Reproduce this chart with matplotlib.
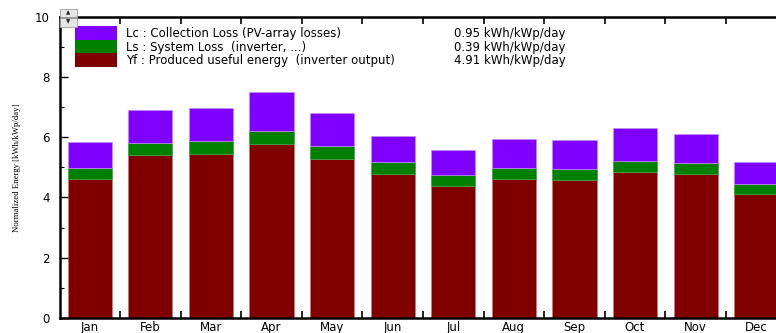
import matplotlib
matplotlib.use("Agg")
import matplotlib.pyplot as plt
from matplotlib.patches import Rectangle
import numpy as np

plt.rcParams['font.family'] = ['DejaVu Sans']

months = ['Jan', 'Feb', 'Mar', 'Apr', 'May', 'Jun',
          'Jul', 'Aug', 'Sep', 'Oct', 'Nov', 'Dec']
# normalized daily energies [kWh/kWp/day]
yf = [4.60, 5.41, 5.43, 5.77, 5.29, 4.76, 4.38, 4.61, 4.58, 4.84, 4.77, 4.12]
ls = [0.39, 0.40, 0.44, 0.44, 0.40, 0.40, 0.37, 0.36, 0.35, 0.38, 0.38, 0.31]
lc = [0.84, 1.09, 1.11, 1.28, 1.11, 0.89, 0.82, 0.97, 0.97, 1.07, 0.95, 0.74]

legend_labels = ['Lc : Collection Loss (PV-array losses)',
                 'Ls : System Loss  (inverter, ...)',
                 'Yf : Produced useful energy  (inverter output)']
legend_values = ['0.95 kWh/kWp/day', '0.39 kWh/kWp/day', '4.91 kWh/kWp/day']
colors = ['#8000ff', '#008000', '#800000']
edges = ['#c090ff', '#40a040', '#c08080']

W, H = 776, 333
fig = plt.figure(figsize=(W / 100, H / 100), dpi=100)
ax = fig.add_axes([59.5 / W, 15 / H, 727 / W, 301.5 / H])

x = np.arange(1, 13)
bw = 0.73
ax.bar(x, yf, bw, color=colors[2], edgecolor=edges[2], linewidth=0.5)
ax.bar(x, ls, bw, bottom=yf, color=colors[1], edgecolor=edges[1], linewidth=0.5)
ax.bar(x, lc, bw, bottom=np.add(yf, ls), color=colors[0], edgecolor=edges[0], linewidth=0.5)

ax.set_xlim(0.5, 12.5)
ax.set_ylim(0, 10)

# month boundaries as ticks, names centred under the bars
ax.set_xticks(np.arange(1.5, 12.5, 1))
ax.set_xticklabels([])
ax.set_xticks(x, minor=True)
ax.set_xticklabels(months, minor=True, fontsize=8.5)
ax.tick_params(axis='x', which='major', direction='in', length=5, width=1.2,
               top=True, bottom=True)
ax.tick_params(axis='x', which='minor', length=0, pad=2.5)

ax.set_yticks(np.arange(0, 11, 2))
ax.set_yticks(np.arange(1, 10, 2), minor=True)
ax.tick_params(axis='y', which='major', direction='in', length=6, width=1.0,
               labelsize=8.5, pad=7)
ax.tick_params(axis='y', which='minor', direction='in', length=3, width=0.8)

for side in ['left', 'top', 'bottom']:
    ax.spines[side].set_linewidth(1.8)
ax.spines['right'].set_visible(False)

fig.text(17 / W, 1 - 168 / H, 'Normalized Energy [kWh/kWp/day]', rotation=90,
         ha='center', va='center', fontsize=6.3, family='Liberation Serif')

# legend block inside the plot
def px(xp, yp):
    return ax.transAxes.inverted().transform(fig.transFigure.transform((xp / W, 1 - yp / H)))

row_tops = [26, 40, 53]
for i in range(3):
    x0, y1 = px(75, row_tops[i])
    x1, y0 = px(117, row_tops[i] + 13.5)
    ax.add_patch(Rectangle((x0, y0), x1 - x0, y1 - y0, transform=ax.transAxes,
                           facecolor=colors[i], edgecolor='none', zorder=5))
    tx, ty = px(126, row_tops[i] + 7.5)
    ax.text(tx, ty, legend_labels[i], transform=ax.transAxes, fontsize=8.5,
            va='center', ha='left', zorder=6)
    vx, _ = px(566, 0)
    ax.text(vx, ty, legend_values[i], transform=ax.transAxes, fontsize=8.5,
            va='center', ha='right', zorder=6)

# small scroll buttons at the top-left corner
for (y_top, y_bot, sym) in [(9, 17, '\u25b2'), (17.5, 27, '\u25bc')]:
    r = Rectangle((60 / W, 1 - y_bot / H), 17 / W, (y_bot - y_top) / H,
                  transform=fig.transFigure, facecolor='#e6e6e6',
                  edgecolor='#a0a0a0', linewidth=0.6, zorder=10)
    fig.add_artist(r)
    fig.text(68.5 / W, 1 - (y_top + y_bot) / 2 / H, sym, ha='center', va='center',
             fontsize=4, color='#202020', zorder=11)

fig.savefig('out.png', dpi=100)
